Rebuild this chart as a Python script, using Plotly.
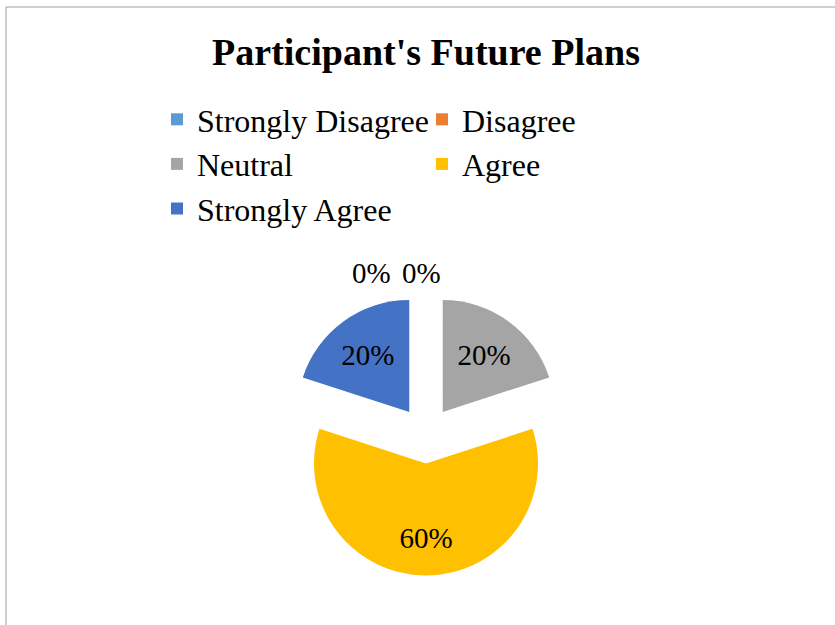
import plotly.graph_objects as go

labels = ["Strongly Disagree", "Disagree", "Neutral", "Agree", "Strongly Agree"]
values = [0, 0, 20, 60, 20]
colors = ["#5B9BD5", "#ED7D31", "#A5A5A5", "#FFC000", "#4472C4"]
title_text = "Participant's Future Plans"

W, H = 835, 625
ML, MR, MT, MB = 60, 60, 0, 0
PW, PH = W - ML - MR, H - MT - MB

def px_x(x):
    return (x - ML) / PW

def px_y(y):
    return 1 - (y - MT) / PH

serif = "Times New Roman, Liberation Serif, serif"
total = sum(values)
pull = 0.254
r = 112
half = r * (1 + pull)
cx, cy = 426, 435

# the large slice's label sits lower in the reference: a leading blank line pushes it down
texts = []
for v in values:
    if v == 0:
        texts.append("")
    elif v / total > 0.5:
        texts.append(f" <br>{v / total:.0%}")
    else:
        texts.append(f"{v / total:.0%}")

fig = go.Figure(go.Pie(
    labels=labels,
    values=values,
    sort=False,
    direction="clockwise",
    rotation=0,
    pull=[pull] * len(values),
    marker=dict(colors=colors, line=dict(width=0)),
    text=texts,
    textinfo="text",
    textposition="inside",
    insidetextorientation="horizontal",
    insidetextfont=dict(family=serif, size=29, color="black"),
    domain=dict(x=[px_x(cx - half), px_x(cx + half)],
                y=[px_y(cy + half), px_y(cy - half)]),
    hoverinfo="label+percent",
))

# zero-value slice labels (placed side by side above the pie, as in the reference)
zero_idx = [i for i, v in enumerate(values) if v == 0]
zero_x = [371, 421]
annotations = []
for k, i in enumerate(zero_idx):
    annotations.append(dict(
        x=px_x(zero_x[k]), y=px_y(273), xref="paper", yref="paper",
        text=f"{values[i] / total:.0%}", showarrow=False,
        font=dict(family=serif, size=29, color="black"),
        xanchor="center", yanchor="middle",
    ))

fig.update_layout(
    width=W, height=H,
    margin=dict(l=ML, r=MR, t=MT, b=MB),
    paper_bgcolor="white", plot_bgcolor="white",
    title=dict(text=f"<b>{title_text}</b>", x=426 / W, xref="container",
               y=1 - 52 / H, yref="container", xanchor="center", yanchor="middle",
               font=dict(family=serif, size=38, color="black")),
    showlegend=True,
    legend=dict(orientation="h", x=px_x(157), xanchor="left", y=px_y(92), yanchor="top",
                entrywidth=220, entrywidthmode="pixels",
                font=dict(family=serif, size=32, color="black"),
                bgcolor="rgba(0,0,0,0)", traceorder="normal"),
    annotations=annotations,
    shapes=[dict(type="rect", xref="paper", yref="paper",
                 x0=px_x(6), x1=px_x(W + 20), y0=px_y(H + 20), y1=px_y(7),
                 line=dict(color="#A0A0A0", width=1), fillcolor="rgba(0,0,0,0)",
                 layer="below")],
)

fig.write_html("out.html")
